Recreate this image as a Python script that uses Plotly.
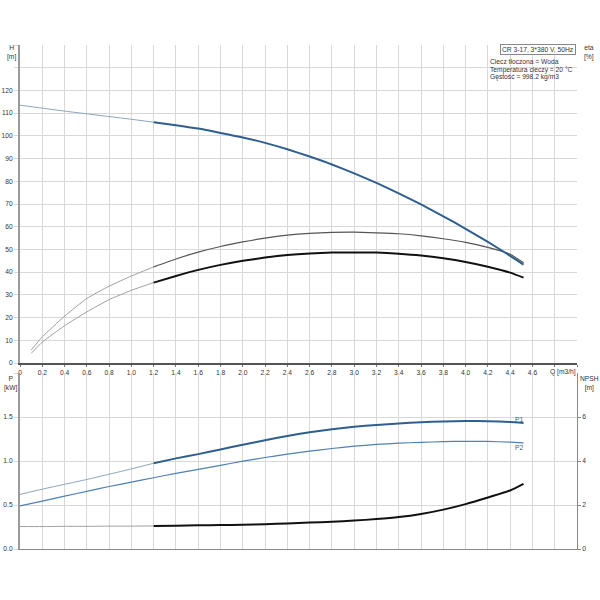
import plotly.graph_objects as go

# ---------------- data ----------------
Q_thin = [0.0, 0.2, 0.4, 0.6, 0.8, 1.0, 1.2]
Q_main = [1.2, 1.4, 1.6, 1.8, 2.0, 2.2, 2.4, 2.6, 2.8, 3.0, 3.2, 3.4, 3.6, 3.8, 4.0, 4.2, 4.4, 4.52]
Q_eta_thin = [0.1, 0.2, 0.4, 0.6, 0.8, 1.0, 1.2]
Q_all = Q_thin[:-1] + Q_main

H_thin = [113.5, 112.2, 110.9, 109.7, 108.5, 107.3, 106.0]
H_main = [106.0, 104.7, 103.2, 101.3, 99.3, 96.9, 94.1, 90.9, 87.4, 83.5, 79.3, 74.7, 69.8, 64.6, 59.1, 53.3, 47.2, 43.3]

eta_p_thin = [5.7, 11.5, 20.6, 28.4, 33.8, 38.3, 42.3]
eta_p_main = [42.3, 45.8, 48.8, 51.3, 53.3, 55.0, 56.3, 57.1, 57.5, 57.6, 57.3, 56.9, 56.0, 54.7, 53.1, 50.9, 47.9, 44.1]

eta_t_thin = [4.2, 9.2, 16.4, 22.5, 27.9, 32.0, 35.4]
eta_t_main = [35.4, 38.3, 41.0, 43.2, 45.0, 46.4, 47.5, 48.2, 48.6, 48.7, 48.6, 48.1, 47.3, 46.1, 44.5, 42.4, 39.8, 37.6]

P1_thin = [0.62, 0.68, 0.735, 0.79, 0.85, 0.91, 0.975]
P1_main = [0.975, 1.03, 1.078, 1.131, 1.185, 1.236, 1.285, 1.327, 1.36, 1.388, 1.41, 1.427, 1.44, 1.45, 1.455, 1.452, 1.443, 1.432]

P2_all = [0.49, 0.545, 0.60, 0.655, 0.71, 0.76, 0.81, 0.86, 0.905, 0.95, 0.998, 1.04, 1.078, 1.112,
          1.142, 1.168, 1.188, 1.202, 1.212, 1.22, 1.224, 1.222, 1.215, 1.207]

NPSH_thin = [1.02, 1.02, 1.03, 1.03, 1.04, 1.04, 1.05]
NPSH_main = [1.05, 1.06, 1.08, 1.09, 1.10, 1.13, 1.16, 1.20, 1.24, 1.29, 1.36, 1.45, 1.59, 1.79, 2.04, 2.34, 2.66, 2.96]

x_ticks = [round(0.2 * i, 1) for i in range(26)]
x_labels = ["0"] + ["%.1f" % v for v in x_ticks[1:24]] + ["", ""]
H_ticks = list(range(0, 150, 10))
H_labels = [str(v) for v in range(0, 130, 10)] + ["", ""]
eta_ticks = list(range(0, 110, 10))
P_ticks = [0.0, 0.5, 1.0, 1.5, 2.0]
P_labels = ["0.0", "0.5", "1.0", "1.5", ""]
NPSH_ticks = [0, 2, 4, 6]

info_lines = ["Ciecz tłoczona = Woda", "Temperatura cieczy = 20 °C", "Gęstość = 998.2 kg/m3"]

# ---------------- figure ----------------
BLUE = "#2f5f8e"
BLUE_LIGHT = "#4f81b3"
BLUE_THIN = "#8ea4bb"
GRAY_THIN = "#a0a0a0"
GRID = "#d8d8d8"
FONT = dict(family="Liberation Sans, Arial, sans-serif", size=6.7, color="#333333")

fig = go.Figure()

def line(x, y, color, width, xa="x", ya="y"):
    fig.add_trace(go.Scatter(x=x, y=y, mode="lines", xaxis=xa, yaxis=ya,
                             line=dict(color=color, width=width, shape="spline", smoothing=0.5),
                             hoverinfo="skip", showlegend=False))

# top panel
line(Q_eta_thin, eta_p_thin, GRAY_THIN, 1)
line(Q_main, eta_p_main, "#555555", 1.2)
line(Q_eta_thin, eta_t_thin, GRAY_THIN, 1)
line(Q_main, eta_t_main, "#111111", 2)
line(Q_thin, H_thin, BLUE_THIN, 1)
line(Q_main, H_main, BLUE, 2)

# bottom panel
line(Q_thin, NPSH_thin, GRAY_THIN, 1, "x2", "y4")
line(Q_main, NPSH_main, "#111111", 2, "x2", "y4")
line(Q_all, P2_all, BLUE_LIGHT, 1.2, "x2", "y3")
line(Q_thin, P1_thin, BLUE_THIN, 1, "x2", "y3")
line(Q_main, P1_main, BLUE, 2, "x2", "y3")

XD = [20 / 600, 577 / 600]
TOP = [1 - 363 / 600, 1 - 45 / 600]
BOT = [1 - 549 / 600, 1 - 373 / 600]

xcommon = dict(range=[0, 5.0], domain=XD, tickmode="array", tickvals=x_ticks,
               showgrid=True, gridcolor=GRID, gridwidth=1, zeroline=False,
               tickfont=FONT, fixedrange=True, automargin=False)

yleft = dict(showgrid=True, gridcolor=GRID, zeroline=False, showline=True,
             linecolor="#9a9a9a", linewidth=2, tickfont=FONT, fixedrange=True,
             automargin=False, ticks="outside", ticklen=4, tickcolor=GRID)
yright = dict(side="right", showgrid=False, zeroline=False, showline=True,
              linecolor="#888888", linewidth=1, ticks="outside", ticklen=3,
              tickcolor="#888888", tickfont=FONT, fixedrange=True, automargin=False)

fig.update_layout(
    width=600, height=600,
    margin=dict(l=0, r=0, t=0, b=0, pad=0),
    paper_bgcolor="white", plot_bgcolor="white",
    font=FONT,
    xaxis=dict(xcommon, anchor="y", ticktext=x_labels, showline=True, linecolor="#555555",
               linewidth=1.5, ticks="outside", ticklen=2, tickcolor="#777777"),
    xaxis2=dict(xcommon, anchor="y3", showticklabels=False, showline=True,
                linecolor="#888888", linewidth=1),
    yaxis=dict(yleft, domain=TOP, range=[0, 140], tickmode="array", tickvals=H_ticks,
               ticktext=H_labels, anchor="x"),
    yaxis2=dict(yright, domain=TOP, range=[0, 140], overlaying="y", anchor="x",
                tickmode="array", tickvals=eta_ticks),
    yaxis3=dict(yleft, domain=BOT, range=[0, 2.0], tickmode="array", tickvals=P_ticks,
                ticktext=P_labels, anchor="x2"),
    yaxis4=dict(yright, domain=BOT, range=[0, 8], overlaying="y3", anchor="x2",
                tickmode="array", tickvals=NPSH_ticks),
)

def px_ann(text, x, y, xanchor="left", yanchor="top", align="left", **kw):
    fig.add_annotation(text=text, xref="paper", yref="paper", x=x / 600, y=1 - y / 600,
                       xanchor=xanchor, yanchor=yanchor, align=align, showarrow=False,
                       font=FONT, **kw)

px_ann("H<br>[m]", 11, 42, xanchor="center", align="center")
px_ann("eta<br>[%]", 589, 42, xanchor="center", align="center")
px_ann("P<br>[kW]", 11, 373, xanchor="center", align="center")
px_ann("NPSH<br>[m]", 589, 373, xanchor="center", align="center")
px_ann("Q [m3/h]", 548, 366)
px_ann("CR 3-17, 3*380 V, 50Hz", 576, 44, xanchor="right", bordercolor="#888888",
       borderwidth=1, borderpad=1, bgcolor="white")
for i, t in enumerate(info_lines):
    px_ann(t, 488, 56.5 + 7.5 * i)

fig.add_annotation(text="P1", x=4.53, y=1.47, xref="x2", yref="y3", xanchor="right",
                   yanchor="middle", showarrow=False, font=dict(FONT, color=BLUE))
fig.add_annotation(text="P2", x=4.53, y=1.155, xref="x2", yref="y3", xanchor="right",
                   yanchor="middle", showarrow=False, font=dict(FONT, color=BLUE))

fig.write_html("out.html", config={"displayModeBar": False},
               post_script="document.body.style.margin='0px';document.body.style.overflow='hidden';")
